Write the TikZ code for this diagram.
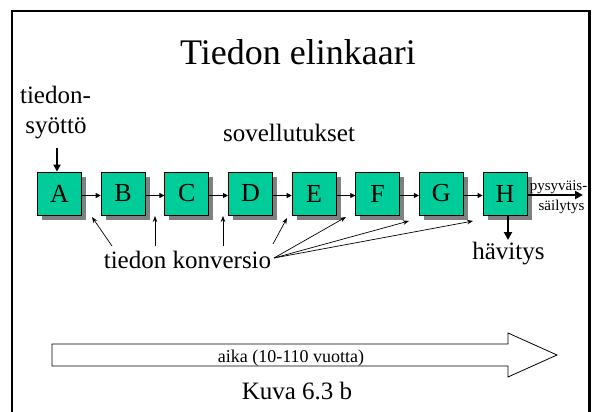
\documentclass[tikz,border=0pt]{standalone}
\usepackage{fontspec}
\setmainfont{Liberation Serif}
\usetikzlibrary{arrows.meta,shadows}
\definecolor{boxgreen}{RGB}{0,204,153}
\definecolor{shadowgray}{RGB}{128,128,128}

\begin{document}
\begin{tikzpicture}[x=1pt,y=-1pt,
  stage/.style={draw=black, line width=0.8pt, fill=boxgreen,
    minimum width=44pt, minimum height=43pt, inner sep=0pt,
    font=\fontsize{26}{30}\selectfont,
    drop shadow={shadow xshift=4.5pt, shadow yshift=-4.5pt, fill=shadowgray, opacity=1}},
  biglabel/.style={font=\fontsize{25}{30}\selectfont, anchor=base, inner sep=0pt},
  smalllabel/.style={font=\fontsize{15}{17}\selectfont, anchor=base, inner sep=0pt},
  link/.style={line width=0.8pt, -{Triangle[length=5pt,width=5pt]}},
  conv/.style={line width=0.7pt, -{Stealth[length=6pt,width=4.5pt]}},
  heavy/.style={line width=2.4pt, -{Triangle[length=8pt,width=8pt]}}]

\useasboundingbox (0,0) rectangle (595,412);

% slide frame (its lower edge lies below the page)
\draw[line width=2.3pt] (12.2,425) -- (12.2,11) -- (589.5,11) -- (589.5,425);

% title and labels
\node[font=\fontsize{36}{40}\selectfont, anchor=base, inner sep=0pt] (title) at (298,65) {Tiedon elinkaari};
\node[biglabel] (tie) at (55.5,103) {tiedon-};
\node[biglabel] (syo) at (56,133) {syöttö};
\node[biglabel] (sov) at (289,142) {sovellutukset};

% the eight stages
\node[stage] (A) at (59.5,193.5) {A};
\node[stage] (B) at (123.1,193.5) {B};
\node[stage] (C) at (186.8,193.5) {C};
\node[stage] (D) at (250.4,193.5) {D};
\node[stage] (E) at (314.1,193.5) {E};
\node[stage] (F) at (377.7,193.5) {F};
\node[stage] (G) at (441.3,193.5) {G};
\node[stage] (H) at (505,193.5) {H};

\foreach \a/\b in {A/B,B/C,C/D,D/E,E/F,F/G,G/H}
  \draw[link] ([yshift=-2pt]\a.east) -- ([yshift=-2pt]\b.west);

% data input
\coordinate (inp) at (57,148);
\draw[heavy, -{Triangle[length=7pt,width=7pt]}] (inp) -- (inp |- A.north);

% permanent storage
\coordinate (store) at (583,195);
\draw[heavy] (H.east |- store) -- (store);
\node[smalllabel] (pys) at (558.5,190) {pysyväis-};
\node[smalllabel] (sai) at (561.5,210) {säilytys};

% destruction
\coordinate (del) at (508,240);
\draw[heavy] (del |- H.south) -- (del);
\node[biglabel] (hav) at (508.5,259) {hävitys};

% conversions
\node[biglabel] (konv) at (187.5,268) {tiedon konversio};
\coordinate (t1) at (112,246);
\coordinate (t2) at (155,246);
\coordinate (t3) at (223,246);
\coordinate (t4) at (273,244);
\coordinate (fan) at (274,258);
\coordinate (c1) at (92,217);
\coordinate (c2) at (155,216);
\coordinate (c3) at (223,216);
\coordinate (c4) at (287,218);
\coordinate (c5) at (346,217);
\coordinate (c6) at (409,221);
\coordinate (c7) at (473,221);
\draw[conv] (t1) -- (c1);
\draw[conv] (t2) -- (c2);
\draw[conv] (t3) -- (c3);
\draw[conv] (t4) -- (c4);
\draw[conv] (fan) -- (c5);
\draw[conv] (fan) -- (c6);
\draw[conv] (fan) -- (c7);

% time arrow
\draw[line width=0.8pt, fill=white]
  (52,344) -- (508,344) -- (508,333) -- (557,355) -- (508,377) -- (508,366) -- (52,366) -- cycle;
\node[font=\fontsize{18}{20}\selectfont, anchor=base, inner sep=0pt] (aika) at (291,362) {aika (10-110 vuotta)};
\node[biglabel] (kuva) at (297,399) {Kuva 6.3 b};

\end{tikzpicture}
\end{document}
